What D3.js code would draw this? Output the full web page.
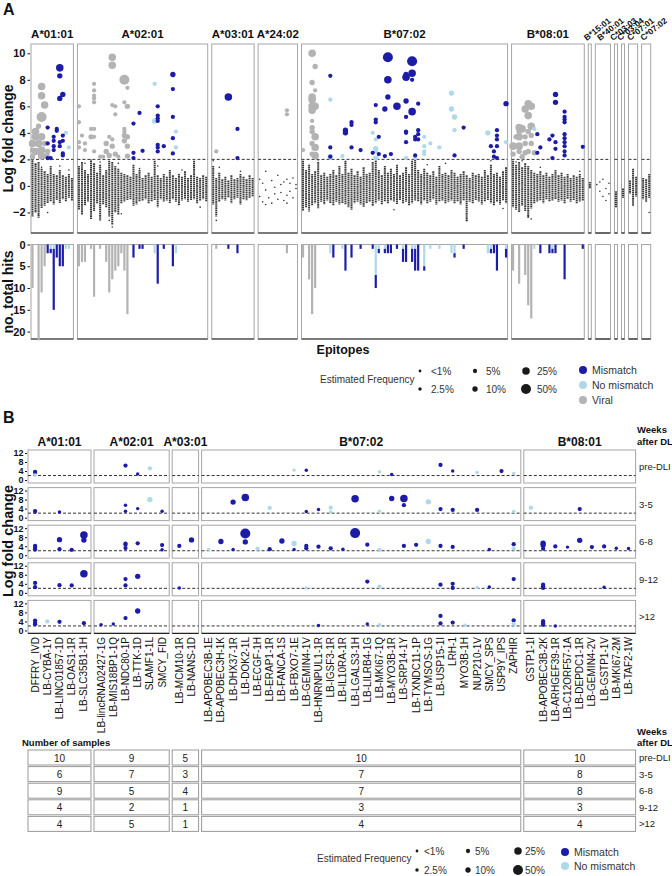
<!DOCTYPE html>
<html>
<head>
<meta charset="utf-8">
<script src="https://cdn.jsdelivr.net/npm/d3@7"></script>
<style>
body { margin: 0; background: #fff; }
svg { display: block; font-family: "Liberation Sans", Arial, sans-serif; }
</style>
</head>
<body>
<script>
// ---------- data : panel A ----------
const groupsA = ["A*01:01","A*02:01","A*03:01","A*24:02","B*07:02","B*08:01","B*15:01","B*40:01","C*03:03","C*03:04","C*07:01","C*07:02"];
const colsA = [14,43,14,13,68,24,1,5,1,1,3,3];

// spread of the non-hit log fold changes per epitope column (upper / lower end)
const stripHi = [
  [1.9,1.7,1.8,1.3,1.1,0.9,1.5,0.9,0.8,1.2,0.8,0.7,0.9,0.6],
  [1.5,1.8,1.2,0.9,1.9,1.7,1.0,1.6,0.8,1.2,1.9,1.8,1.5,1.3,1.0,0.9,0.8,0.7,1.6,0.9,1.2,0.6,0.8,1.0,0.7,1.9,0.8,0.6,0.9,0.7,1.2,0.8,0.6,0.9,0.7,1.1,0.6,0.8,1.9,0.7,0.6,0.8,0.7],
  [1.5,0.6,1.0,0.5,0.7,0.4,0.8,0.5,0.6,0.9,0.7,0.5,0.8,0.6],
  [],
  [1.9,1.2,1.6,0.9,1.1,1.8,0.8,1.0,0.7,0.9, 1.2,0.8,1.5,0.9,1.9,1.0,1.3,0.8,1.1,0.7,
   1.4,0.9,1.0,1.8,1.9,1.2,0.8,1.5,1.0,1.3, 0.9,1.6,0.8,1.0,1.4,0.9,1.9,2.0,1.2,0.9,
   1.3,1.0,0.8,1.1,0.7,1.5,0.9,1.0,0.8,1.2, 1.0,0.7,0.9,1.1,0.8,0.6,1.0,0.8,0.9,0.7,
   1.2,0.8,1.6,0.9,1.0,0.7,1.1,1.4],
  [1.9,1.6,1.8,1.4,1.7,1.5,1.2,1.0,0.9,1.1,0.8,1.0,0.7,0.9,1.2,0.8,1.0,0.7,0.9,0.6,0.8,0.7,0.9,0.6],
  [0.3],
  [],
  [-0.4],
  [-0.2],
  [0.4,1.3,0.7],
  [0.6,0.5,0.9]
];
const stripLo = [
  [-2.3,-2.0,-2.4,-1.7,-1.5,-1.3,-1.2,-1.4,-1.1,-1.3,-1.0,-1.2,-0.9,-1.1],
  [-1.8,-2.2,-1.5,-1.2,-2.5,-1.9,-1.3,-2.6,-1.4,-1.6,-2.3,-2.9,-2.0,-2.2,-1.3,-1.2,-1.1,-1.0,-1.5,-1.4,-1.2,-1.1,-1.0,-1.3,-1.2,-1.1,-1.6,-1.0,-1.2,-1.1,-1.3,-1.0,-1.2,-1.5,-1.1,-1.0,-1.2,-1.1,-1.0,-1.3,-1.1,-1.0,-1.2],
  [-1.4,-2.3,-1.2,-1.0,-1.1,-0.9,-1.3,-1.0,-0.9,-1.4,-1.0,-1.1,-0.9,-0.8],
  [],
  [-1.9,-1.6,-1.8,-1.5,-1.3,-1.7,-1.2,-1.4,-1.1,-1.3, -1.5,-1.2,-1.4,-1.3,-1.4,-1.6,-1.8,-1.3,-1.2,-1.4,
   -1.6,-1.3,-1.2,-1.5,-1.3,-1.1,-1.4,-1.2,-1.3,-1.1, -1.2,-1.4,-1.1,-1.3,-1.2,-1.5,-1.3,-1.1,-1.2,-1.4,
   -1.1,-1.3,-1.2,-1.0,-1.4,-1.2,-1.1,-1.3,-1.2,-1.1, -1.3,-1.2,-1.4,-1.1,-2.7,-1.2,-1.3,-1.1,-1.2,-1.4,
   -1.2,-1.1,-1.3,-1.5,-1.2,-1.4,-1.1,-1.3],
  [-1.6,-1.8,-2.0,-1.5,-1.9,-2.4,-1.7,-1.3,-1.2,-1.1,-1.3,-1.0,-1.2,-1.1,-1.0,-1.2,-1.1,-1.3,-1.0,-1.2,-1.1,-1.3,-1.2,-1.1],
  [-0.2],
  [],
  [-1.6],
  [-0.9],
  [-0.6,-1.5,-0.8],
  [-1.0,-1.2,-0.9]
];
// isolated non-hit values [group, column, logFC]
const looseDots = [
  [0,0,1.95],[0,1,1.6],[0,3,1.4],[0,2,-2.2],[0,1,-1.9],[0,5,-2.0],[0,9,1.5],[0,12,1.2],
  [1,2,1.7],[1,4,1.95],[1,7,1.8],[1,10,-2.6],[1,11,-3.1],[1,14,-2.1],[1,13,1.7],[1,20,1.3],[1,26,1.5],[1,34,1.2],[1,38,1.5],[1,40,-1.6],
  [2,0,1.9],[2,2,1.4],[2,1,-2.6],[2,9,1.1],
  [3,0,0.5],[3,0,-0.8],[3,1,0.2],[3,1,-1.2],[3,2,1.1],[3,2,-0.3],[3,3,-0.9],[3,4,0.4],[3,4,-1.3],[3,5,-0.1],[3,5,-0.6],[3,6,0.8],[3,6,-1.0],[3,7,0.1],[3,7,-0.5],[3,8,-1.1],[3,8,0.3],[3,9,0.5],[3,9,-0.7],[3,10,-0.4],[3,10,0.2],[3,11,0.6],[3,11,-0.9],[3,12,-0.2],[3,12,0.1],[3,2,-1.4],[3,9,-1.3],
  [4,5,1.95],[4,14,1.7],[4,24,1.95],[4,37,2.0],[4,41,1.6],[4,54,-2.6],[4,30,-1.8],[4,2,-1.9],[4,47,1.7],[4,62,1.9],[4,66,-1.7],
  [5,1,1.8],[5,3,1.9],[5,5,-2.3],[5,6,-2.5],[5,9,1.4],[5,22,1.1],
  [6,0,-0.1],
  [7,0,0.1],[7,1,-0.4],[7,1,0.3],[7,2,-0.8],[7,3,-0.2],[7,3,-1.1],[7,4,-0.6],[7,4,0.2],[7,2,0.5],
  [11,2,-2.0]
];
// hits [group, column, logFC, estimated frequency %]
const hitsViral = [
  [0,3,7.5,25],[0,3,6.8,25],[0,4,6.1,25],[0,3,5.2,50],[0,2,4.5,10],[0,1,4.1,25],[0,1,3.7,25],[0,3,3.7,25],[0,0,3.2,25],[0,2,3.2,25],[0,4,3.2,10],[0,0,2.7,10],[0,1,2.6,25],[0,3,2.7,25],[0,5,2.6,10],[0,0,2.2,10],[0,3,2.25,25],[0,4,2.25,10],[0,5,2.3,5],
  [1,11,9.7,25],[1,11,9.1,25],[1,15,8.0,50],[1,16,7.4,5],[1,5,7.7,5],[1,5,7.2,5],[1,5,6.8,5],[1,5,6.6,5],[1,5,6.3,5],[1,0,6.0,5],[1,11,6.1,5],[1,12,6.0,5],[1,15,6.3,5],[1,16,6.0,10],[1,0,4.8,5],[1,12,5.4,5],[1,4,4.3,5],[1,5,4.3,5],[1,1,3.8,5],[1,4,3.7,10],[1,5,3.7,5],[1,15,4.3,5],[1,15,4.1,5],[1,15,3.8,10],[1,16,3.7,10],[1,15,3.4,10],[1,11,3.5,5],[1,10,3.7,5],[1,0,3.3,5],[1,2,3.2,5],[1,9,3.2,10],[1,11,3.0,10],[1,16,3.0,10],[1,2,2.7,5],[1,5,2.6,5],[1,9,2.6,10],[1,10,2.3,10],[1,12,2.4,10],[1,0,2.9,5],[1,7,2.2,5],[1,16,2.25,10],[1,8,2.2,5],[1,13,2.2,5],
  [2,1,2.6,5],
  [3,9,5.7,5],[3,9,5.4,5],
  [4,3,10.0,25],[4,4,9.0,10],[4,3,7.8,10],[4,4,7.2,5],[4,3,6.7,25],[4,3,6.5,25],[4,3,6.0,25],[4,4,6.0,25],[4,3,5.7,25],[4,3,4.4,10],[4,3,4.1,10],[4,4,3.7,25],[4,3,3.2,10],[4,4,2.9,25],[4,3,2.4,10],[4,4,2.3,25],[4,0,2.7,5],[4,4,2.2,10],[4,3,4.9,5],
  [5,5,6.2,25],[5,6,6.0,25],[5,4,5.8,25],[5,5,5.3,25],[5,3,4.3,25],[5,2,4.4,25],[5,6,4.5,25],[5,5,4.1,10],[5,1,3.7,10],[5,2,3.7,25],[5,4,3.7,10],[5,6,3.8,10],[5,0,3.0,25],[5,2,3.0,25],[5,4,3.2,10],[5,6,3.2,10],[5,2,2.6,10],[5,4,2.5,10],[5,5,2.6,10],[5,0,2.4,10],[5,7,2.5,10],[5,3,2.2,10],[5,2,4.1,10]
];
const hitsMismatch = [
  [0,9,8.9,25],[0,9,8.3,10],[0,9,6.6,10],[0,10,6.9,10],[0,5,4.4,5],[0,8,4.3,5],[0,8,4.15,5],[0,7,3.7,5],[0,7,3.4,5],[0,7,3.0,5],[0,7,2.7,5],[0,5,3.2,5],[0,9,3.3,5],[0,9,3.0,5],[0,10,3.8,5],[0,10,3.4,5],[0,10,2.45,5],[0,10,2.3,5],[0,5,2.1,5],[0,6,2.1,5],
  [1,31,8.4,10],[1,31,7.3,5],[1,31,5.2,5],[1,31,3.6,5],[1,31,2.45,5],[1,26,6.0,5],[1,26,5.3,5],[1,26,5.1,5],[1,26,4.9,5],[1,26,3.1,5],[1,26,2.9,5],[1,26,2.6,5],[1,20,5.5,5],[1,18,4.7,5],[1,18,2.5,5],[1,18,2.1,5],[1,21,2.65,5],[1,28,3.0,5],
  [2,5,6.7,25],[2,8,4.3,5],[2,8,2.1,5],
  [4,9,8.3,5],[4,9,2.9,5],[4,9,2.2,5],
  [4,28,9.7,50],[4,28,8.0,25],[4,28,6.7,10],[4,27,5.8,10],[4,36,9.4,50],[4,36,8.5,25],[4,36,8.0,5],[4,36,5.6,25],[4,34,8.2,25],[4,34,8.4,10],[4,34,6.4,10],[4,31,6.0,25],[4,38,6.2,5],[4,34,5.2,5],[4,34,4.1,5],[4,34,4.0,5],[4,34,3.3,5],[4,38,4.2,5],[4,37,3.7,5],[4,37,3.5,5],[4,38,3.9,5],[4,38,3.5,5],[4,37,2.3,5],[4,29,2.4,5],[4,27,2.25,5],[4,24,6.1,5],[4,24,5.0,5],[4,24,4.8,5],[4,25,3.7,5],[4,25,2.4,5],[4,14,4.2,10],[4,14,4.0,10],[4,16,4.8,5],[4,16,4.6,5],[4,16,2.9,5],[4,19,2.7,5],[4,23,2.5,5],[4,50,2.3,5],[4,53,4.4,5],[4,62,3.0,5],[4,63,2.6,5],[4,63,2.2,5],[4,64,4.2,5],[4,64,3.8,5],[4,64,3.5,5],[4,64,3.0,5],[4,64,2.1,5],[4,67,6.2,10],
  [5,14,6.9,10],[5,14,6.3,10],[5,17,5.6,5],[5,17,5.2,5],[5,17,5.0,5],[5,17,4.8,5],[5,17,3.9,5],[5,17,3.6,5],[5,17,3.3,5],[5,17,3.0,5],[5,17,2.6,5],[5,17,2.3,5],[5,8,3.9,5],[5,9,2.9,5],[5,8,2.5,5],[5,13,3.8,5],[5,12,3.5,5],[5,14,3.3,5],[5,14,2.8,5],[5,13,2.1,5],[5,23,2.95,5]
];
const hitsNoMismatch = [
  [0,11,4.0,5],[0,12,2.9,5],
  [1,25,7.7,5],[1,25,4.9,10],[1,32,4.1,5],[1,32,2.9,5],
  [4,9,6.5,5],[4,9,2.2,10],
  [4,49,7.0,10],[4,49,5.8,10],[4,50,5.2,10],[4,50,4.2,5],[4,61,4.0,10],[4,23,4.0,5],[4,24,3.5,5],[4,24,2.8,10],[4,24,2.6,5],[4,24,2.1,10],[4,40,3.7,5],[4,40,3.0,5],[4,40,2.6,5],[4,40,2.4,5],[4,42,3.2,5],[4,45,2.9,5],[4,67,3.3,5],[4,13,2.25,5],[4,34,2.1,5],[4,37,2.1,5],
  [5,7,4.3,5]
];
// number of hits per epitope [group, column, viral, no mismatch, mismatch]
const barsA = [
  [0,0,10,0,0],[0,2,22,0,0],[0,3,11,0,0],[0,4,5,0,0],[0,5,0,0,2],[0,6,0,1,1],[0,7,0,1,14],[0,8,0,0,3],[0,9,0,0,5],[0,10,0,0,5],[0,11,0,1,0],[0,12,0,1,0],
  [1,0,5,0,0],[1,1,4,0,0],[1,2,4,0,0],[1,4,1,0,0],[1,5,12,0,0],[1,7,1,0,0],[1,9,4,0,0],[1,10,11,0,0],[1,11,8,0,0],[1,12,6,0,0],[1,13,5,0,0],[1,14,2,0,0],[1,15,6,0,0],[1,16,16,0,0],
  [1,18,0,0,3],[1,20,0,0,1],[1,21,0,0,1],[1,25,0,2,0],[1,26,0,0,9],[1,28,0,0,1],[1,31,0,0,5],[1,32,0,2,0],
  [2,1,1,0,0],[2,5,0,0,1],[2,8,0,0,2],
  [3,9,2,0,0],
  [4,0,3,0,0],[4,2,8,0,0],[4,3,16,0,0],[4,4,10,0,0],[4,9,0,2,0],[4,10,0,0,3],[4,13,0,1,0],[4,14,0,0,6],[4,16,0,0,3],[4,19,0,0,1],[4,23,0,0,1],[4,24,0,7,3],[4,25,0,1,1],
  [4,27,0,1,1],[4,28,0,0,2],[4,29,0,0,2],[4,31,0,0,1],[4,33,0,1,3],[4,34,0,0,4],[4,36,0,1,3],[4,37,0,1,5],[4,38,0,0,6],[4,40,0,5,1],[4,42,0,1,0],[4,45,0,1,0],
  [4,49,0,2,0],[4,50,0,2,1],[4,53,0,0,1],[4,61,0,2,0],[4,62,0,1,1],[4,63,0,0,2],[4,64,0,0,6],[4,67,0,1,2],
  [5,0,6,0,0],[5,2,9,0,0],[5,4,7,0,0],[5,5,14,0,0],[5,6,17,0,0],[5,7,0,1,0],[5,9,0,0,2],[5,12,0,0,2],[5,13,0,1,1],[5,14,0,0,2],[5,17,0,0,8],[5,23,0,0,1]
];
const ticksLfcA = [-2,0,2,4,6,8,10];
const ticksHits = [0,5,10,15,20];

// ---------- data : panel B ----------
const groupsB = ["A*01:01","A*02:01","A*03:01","B*07:02","B*08:01"];
const epitopesB = [
  ["DFFRY_IVD","LB-CYBA-1Y","LB-LINC01857-1D","LB-OAS1-1R","LB-SLC35B1-1H"],
  ["LB-lincRNA02427-1G","LB-MIS18BP1-1Q","LB-NDC80-1P","LB-TTK-1D","SLAMF1-1L","SMCY_FID"],
  ["LB-MCM10-1R","LB-NANS-1D"],
  ["LB-APOBEC3B-1E","LB-APOBEC3H-1K","LB-DHX37-1R","LB-DOK2-1L","LB-ECGF-1H","LB-ERAP1-1R","LB-FANCA-1S","LB-FBXO7-1E","LB-GEMIN4-1V","LB-HNRNPUL1-1R","LB-IGSF3-1R","LB-IL10RA-1R","LB-LGALS3-1H","LB-LILRB4-1G","LB-MKI67-1Q","LB-MYO3B-1R","LB-SRP14-1Y","LB-TXNDC11-1P","LB-TYMSOS-1G","LB-USP15-1I","LRH-1","MYO3B-1H","NUP210-1V","SMCY_SPS","USP9Y_IPS","ZAPHIR"],
  ["GSTP1-1I","LB-APOBEC3B-2K","LB-ARHGEF39-1R","LB-C12ORF57-1A","LB-DEPDC1-1R","LB-GEMIN4-2V","LB-GSTP1-1V","LB-MKI67-2M","LB-TAF2-1W"]
];
const timepoints = ["pre-DLI","3-5","6-8","9-12",">12"];
const samplesB = [[10,6,9,4,4],[9,7,5,2,5],[5,3,4,1,1],[10,7,7,3,4],[10,8,8,3,4]];
const ticksLfcB = [0,4,8,12];
// [timepoint row, group, epitope, logFC, frequency %, m = mismatch / n = no mismatch]
const hitsB = [
  [0,0,0,3.6,5,"m"],[0,0,0,3.1,2.5,"m"],[0,0,0,2.2,2.5,"n"],
  [0,1,2,6.4,5,"m"],[0,1,3,2.7,2.5,"m"],[0,1,4,5.2,5,"n"],
  [0,3,7,4.4,2.5,"n"],[0,3,8,4.3,2.5,"m"],[0,3,14,3.7,2.5,"n"],[0,3,15,2.5,2.5,"m"],[0,3,19,6.7,5,"m"],[0,3,20,4.0,2.5,"m"],[0,3,22,3.4,2.5,"n"],[0,3,24,4.0,5,"m"],[0,3,25,2.9,2.5,"n"],
  [1,0,0,2.9,5,"m"],[1,0,0,2.5,2.5,"m"],[1,0,2,2.5,2.5,"m"],
  [1,1,2,5.5,2.5,"m"],[1,1,2,2.8,2.5,"m"],[1,1,3,4.0,2.5,"m"],[1,1,4,8.0,10,"n"],[1,1,5,2.8,2.5,"m"],
  [1,3,2,6.9,10,"m"],[1,3,3,8.9,25,"m"],[1,3,5,4.3,5,"n"],[1,3,8,2.7,2.5,"m"],[1,3,9,3.6,2.5,"m"],[1,3,10,4.4,5,"n"],[1,3,10,2.5,2.5,"n"],
  [1,3,12,8.4,25,"m"],[1,3,14,2.8,2.5,"n"],[1,3,15,8.5,10,"m"],[1,3,16,8.5,25,"m"],[1,3,16,5.5,5,"m"],[1,3,18,7.0,10,"n"],[1,3,19,3.8,5,"m"],[1,3,20,3.4,5,"m"],[1,3,22,3.4,5,"m"],[1,3,25,2.7,2.5,"n"],
  [1,4,0,4.4,5,"n"],[1,4,4,3.8,5,"m"],
  [2,0,0,4.1,5,"m"],[2,0,0,3.3,5,"m"],[2,0,0,2.5,5,"m"],[2,0,2,6.9,10,"m"],[2,0,2,2.7,5,"m"],[2,0,3,2.4,5,"m"],[2,0,4,9.0,25,"m"],[2,0,4,6.7,10,"m"],
  [2,1,2,5.2,5,"m"],[2,1,2,4.7,5,"m"],[2,1,2,3.2,5,"m"],[2,1,3,5.3,5,"m"],[2,1,5,4.5,5,"m"],[2,1,5,2.4,2.5,"m"],
  [2,2,0,4.1,5,"m"],[2,2,1,6.8,10,"m"],
  [2,3,0,2.6,2.5,"n"],[2,3,1,6.1,10,"m"],[2,3,2,2.5,2.5,"m"],[2,3,3,9.6,50,"m"],[2,3,3,5.9,10,"m"],[2,3,4,2.9,5,"n"],[2,3,5,2.7,5,"m"],[2,3,6,6.3,10,"m"],[2,3,7,5.2,10,"n"],[2,3,7,2.6,2.5,"m"],[2,3,8,4.1,5,"m"],[2,3,8,3.1,5,"m"],[2,3,9,3.8,5,"m"],[2,3,10,3.1,5,"m"],
  [2,3,11,2.7,2.5,"m"],[2,3,12,9.8,50,"m"],[2,3,13,4.7,5,"m"],[2,3,14,2.4,5,"n"],[2,3,16,4.1,5,"m"],[2,3,17,4.6,5,"m"],[2,3,18,6.1,10,"n"],[2,3,19,4.1,5,"m"],[2,3,20,3.7,5,"m"],[2,3,23,2.5,2.5,"m"],[2,3,25,4.9,5,"m"],[2,3,25,3.0,5,"n"],
  [2,4,1,5.3,10,"m"],[2,4,1,4.5,10,"m"],[2,4,1,2.9,5,"m"],[2,4,2,3.9,5,"m"],[2,4,3,3.6,2.5,"m"],[2,4,4,6.6,10,"m"],[2,4,5,3.6,5,"m"],[2,4,6,3.9,5,"m"],[2,4,7,3.1,2.5,"m"],[2,4,8,3.0,2.5,"m"],
  [3,0,0,4.4,5,"m"],[3,0,0,2.5,5,"m"],[3,0,2,3.4,5,"m"],[3,0,3,3.3,5,"m"],[3,0,4,8.5,25,"m"],
  [3,1,2,6.1,5,"m"],[3,1,2,3.3,5,"m"],[3,1,3,7.3,10,"m"],
  [3,2,0,2.2,2.5,"m"],
  [3,3,8,2.2,2.5,"n"],[3,3,13,5.0,5,"m"],[3,3,14,2.8,5,"n"],[3,3,19,3.6,5,"m"],[3,3,20,4.0,5,"m"],[3,3,20,2.2,5,"m"],[3,3,22,2.4,2.5,"n"],[3,3,23,2.6,2.5,"m"],[3,3,25,6.1,5,"m"],
  [3,4,1,3.6,5,"m"],[3,4,1,2.9,5,"m"],[3,4,1,2.2,5,"m"],[3,4,6,2.5,2.5,"m"],
  [4,0,0,4.4,5,"m"],[4,0,0,3.4,5,"m"],[4,0,0,2.7,5,"m"],[4,0,1,4.0,5,"n"],[4,0,2,3.8,5,"m"],[4,0,4,3.2,5,"m"],
  [4,1,0,2.5,2.5,"m"],[4,1,1,2.9,2.5,"m"],[4,1,2,5.5,5,"m"],[4,1,3,8.6,10,"m"],
  [4,3,9,2.2,2.5,"m"],[4,3,13,2.9,2.5,"m"],[4,3,14,2.5,2.5,"n"],[4,3,19,6.4,5,"m"],[4,3,19,3.1,5,"m"],[4,3,20,3.5,5,"m"],[4,3,21,2.3,2.5,"n"],[4,3,25,4.5,5,"m"],[4,3,25,2.9,5,"n"],
  [4,4,1,4.1,5,"m"],[4,4,1,3.2,5,"m"],[4,4,1,2.5,5,"m"],[4,4,2,2.0,2.5,"m"]
];

const legendFreq = [1, 2.5, 5, 10, 25, 50];
const legendFreqLabels = ["<1%","2.5%","5%","10%","25%","50%"];

// ---------- setup ----------
const W = 672, H = 876;
const col = { m: "#1c1ca6", n: "#aed9e8", v: "#b3b3b3", dot: "#333", frame: "#a6a6a6" };
const svg = d3.select("body").append("svg").attr("width", W).attr("height", H);
const size = d3.scaleSqrt().domain([0, 50]).range([0.8, 5]);

function txt(x, y, s, o) {
  o = o || {};
  return svg.append("text").attr("x", x).attr("y", y).text(s)
    .attr("font-size", o.size || 10).attr("font-weight", o.bold ? "bold" : null)
    .attr("text-anchor", o.anchor || "start").attr("fill", o.fill || "#111")
    .attr("transform", o.rot ? "rotate(" + o.rot + "," + x + "," + y + ")" : null);
}

// ---------- panel A ----------
txt(3, 15, "A", { size: 16, bold: true });

const pitchA = 3.03, gapA = 4, leftA = 31;
let cum = 0;
const panelsA = groupsA.map((g, i) => {
  const x0 = leftA + cum * pitchA + i * gapA, w = colsA[i] * pitchA;
  cum += colsA[i];
  return { x0, w, x: d3.scaleBand().domain(d3.range(colsA[i])).range([x0, x0 + w]) };
});
const cx = (g, c) => panelsA[g].x(c) + panelsA[g].x.bandwidth() / 2;

const yA = d3.scaleLinear().domain([-3.55, 10.7]).range([233, 44]);
const yH = d3.scaleLinear().domain([0, 21.7]).range([244.5, 339]);

const gA = svg.append("g");
panelsA.forEach((p, i) => {
  gA.append("rect").attr("x", p.x0).attr("y", 44).attr("width", p.w).attr("height", 189)
    .attr("fill", "none").attr("stroke", col.frame);
  gA.append("rect").attr("x", p.x0).attr("y", 244.5).attr("width", p.w).attr("height", 94.5)
    .attr("fill", "none").attr("stroke", col.frame);
  gA.append("line").attr("x1", p.x0).attr("x2", p.x0 + p.w).attr("y1", 233).attr("y2", 233).attr("stroke", "#222").attr("stroke-width", 1.2);
  gA.append("line").attr("x1", p.x0).attr("x2", p.x0 + p.w).attr("y1", 339).attr("y2", 339).attr("stroke", "#222").attr("stroke-width", 1.2);
  // non-hit spread
  stripHi[i].forEach((hi, c) => {
    gA.append("line").attr("x1", cx(i, c)).attr("x2", cx(i, c))
      .attr("y1", yA(hi)).attr("y2", yA(stripLo[i][c]))
      .attr("stroke", "#3c3c3c").attr("stroke-width", 2).attr("stroke-dasharray", "1.6,0.5");
  });
  gA.append("line").attr("x1", p.x0).attr("x2", p.x0 + p.w).attr("y1", yA(2)).attr("y2", yA(2))
    .attr("stroke", "#333").attr("stroke-dasharray", "3,2");
  if (i < 6) {
    txt(p.x0 + p.w / 2, 38, groupsA[i], { size: 11.5, bold: true, anchor: "middle" });
  } else {
    txt(p.x0 + p.w / 2 - 3, 41, groupsA[i], { size: 8.5, bold: true, rot: -38 });
  }
});

gA.selectAll(".loose").data(looseDots).join("circle")
  .attr("cx", d => cx(d[0], d[1])).attr("cy", d => yA(d[2])).attr("r", 0.8).attr("fill", col.dot);

const hitsAll = []
  .concat(hitsViral.map(d => d.concat("v")))
  .concat(hitsNoMismatch.map(d => d.concat("n")))
  .concat(hitsMismatch.map(d => d.concat("m")))
  .sort((a, b) => b[3] - a[3]);
gA.selectAll(".hit").data(hitsAll).join("circle")
  .attr("cx", d => cx(d[0], d[1])).attr("cy", d => yA(d[2]))
  .attr("r", d => size(d[3])).attr("fill", d => col[d[4]]);

// bars: no mismatch on top, mismatch beneath it, viral alone
const bw = pitchA * 0.72;
barsA.forEach(d => {
  const x = cx(d[0], d[1]) - bw / 2;
  if (d[2] > 0) gA.append("rect").attr("x", x).attr("width", bw).attr("y", yH(0)).attr("height", yH(d[2]) - yH(0)).attr("fill", col.v);
  if (d[3] > 0) gA.append("rect").attr("x", x).attr("width", bw).attr("y", yH(0)).attr("height", yH(d[3]) - yH(0)).attr("fill", col.n);
  if (d[4] > 0) gA.append("rect").attr("x", x).attr("width", bw).attr("y", yH(d[3])).attr("height", yH(d[3] + d[4]) - yH(d[3])).attr("fill", col.m);
});

function styleAxis(g, fs) {
  g.select(".domain").remove();
  g.selectAll("text").attr("font-size", fs).attr("font-weight", "bold").attr("fill", "#111")
    .attr("font-family", "Liberation Sans, Arial, sans-serif");
  g.selectAll("line").attr("stroke", "#111");
}
styleAxis(svg.append("g").attr("transform", "translate(30,0)")
  .call(d3.axisLeft(yA).tickValues(ticksLfcA).tickSize(2.5).tickPadding(2)), 11);
styleAxis(svg.append("g").attr("transform", "translate(30,0)")
  .call(d3.axisLeft(yH).tickValues(ticksHits).tickSize(2.5).tickPadding(2)), 11);

txt(13, 138.5, "Log fold change", { size: 14, bold: true, anchor: "middle", rot: -90 });
txt(13, 292, "no. total hits", { size: 14, bold: true, anchor: "middle", rot: -90 });
txt(343, 354, "Epitopes", { size: 12.5, bold: true, anchor: "middle" });

function legend(x0, y0, colX, rowY, off, types, typeX, typeY) {
  txt(x0, y0, "Estimated Frequency", { size: 10, fill: "#333" });
  legendFreq.forEach((f, i) => {
    const x = colX[Math.floor(i / 2)], y = rowY[i % 2];
    svg.append("circle").attr("cx", x).attr("cy", y).attr("r", size(f)).attr("fill", "#1a1a1a");
    txt(x + off, y + 3.5, legendFreqLabels[i], { size: 10, fill: "#333" });
  });
  types.forEach((t, i) => {
    svg.append("circle").attr("cx", typeX).attr("cy", typeY[i]).attr("r", 4).attr("fill", col[t[0]]);
    txt(typeX + 9, typeY[i] + 3.5, t[1], { size: 10.5, fill: "#333" });
  });
}
legend(320, 383, [420, 475, 526], [371, 389], 11,
  [["m", "Mismatch"], ["n", "No mismatch"], ["v", "Viral"]], 583, [370, 385, 400]);

// ---------- panel B ----------
txt(3, 423, "B", { size: 16, bold: true });

const pitchB = 12.2, gapB = 3, leftB = 28;
let cumB = 0;
const panelsB = groupsB.map((g, i) => {
  const n = epitopesB[i].length;
  const x0 = leftB + cumB * pitchB + i * (gapB + 2), w = n * pitchB + 2;
  cumB += n;
  return { x0, w, x: d3.scaleBand().domain(d3.range(n)).range([x0 + 1, x0 + w - 1]) };
});
const cxB = (g, e) => panelsB[g].x(e) + panelsB[g].x.bandwidth() / 2;
const rowTop = r => 450 + r * 37.6;
const yB = timepoints.map((t, r) => d3.scaleLinear().domain([-1.3, 13.3]).range([rowTop(r) + 33, rowTop(r)]));

const gB = svg.append("g");
timepoints.forEach((t, r) => {
  panelsB.forEach(p => {
    gB.append("rect").attr("x", p.x0).attr("y", rowTop(r)).attr("width", p.w).attr("height", 33)
      .attr("fill", "none").attr("stroke", col.frame);
    gB.append("line").attr("x1", p.x0).attr("x2", p.x0 + p.w).attr("y1", yB[r](2)).attr("y2", yB[r](2))
      .attr("stroke", "#333").attr("stroke-dasharray", "3,2");
    if (r === timepoints.length - 1)
      gB.append("line").attr("x1", p.x0).attr("x2", p.x0 + p.w).attr("y1", rowTop(r) + 33).attr("y2", rowTop(r) + 33).attr("stroke", "#222").attr("stroke-width", 1.2);
  });
  styleAxis(svg.append("g").attr("transform", "translate(27,0)")
    .call(d3.axisLeft(yB[r]).tickValues(ticksLfcB).tickSize(2).tickPadding(1.5)), 9);
  txt(639, rowTop(r) + 20, t, { size: 9.5, fill: "#222" });
});
groupsB.forEach((g, i) => {
  const p = panelsB[i];
  txt(p.x0 + p.w / 2, 446, g, { size: 12, bold: true, anchor: "middle" });
  epitopesB[i].forEach((e, k) => {
    txt(cxB(i, k) + 3.4, 637, e, { size: 10, anchor: "end", rot: -90, fill: "#111" });
  });
});
txt(637, 433, "Weeks", { size: 9.5, bold: true });
txt(637, 445, "after DL", { size: 9.5, bold: true });
txt(13, 541, "Log fold change", { size: 14.5, bold: true, anchor: "middle", rot: -90 });

const hitsBsorted = hitsB.slice().sort((a, b) => b[4] - a[4]);
gB.selectAll(".hb").data(hitsBsorted).join("circle")
  .attr("cx", d => cxB(d[1], d[2])).attr("cy", d => yB[d[0]](d[3]))
  .attr("r", d => size(d[4])).attr("fill", d => col[d[5]]);

// ---------- table ----------
txt(22, 746, "Number of samples", { size: 9.5, bold: true });
txt(637, 735, "Weeks", { size: 9.5, bold: true });
txt(637, 746, "after DL", { size: 9.5, bold: true });
timepoints.forEach((t, r) => {
  const y = 750 + r * 16.6;
  panelsB.forEach((p, i) => {
    svg.append("rect").attr("x", p.x0).attr("y", y).attr("width", p.w).attr("height", 15)
      .attr("fill", "#fff").attr("stroke", "#999");
    txt(p.x0 + p.w / 2, y + 11.5, samplesB[i][r], { size: 10, anchor: "middle", fill: "#222" });
  });
  txt(639, y + 11, t, { size: 9.5, fill: "#222" });
});

legend(317, 862, [417, 468, 518], [851, 870], 7,
  [["m", "Mismatch"], ["n", "No mismatch"]], 565, [852, 866]);
</script>
</body>
</html>
